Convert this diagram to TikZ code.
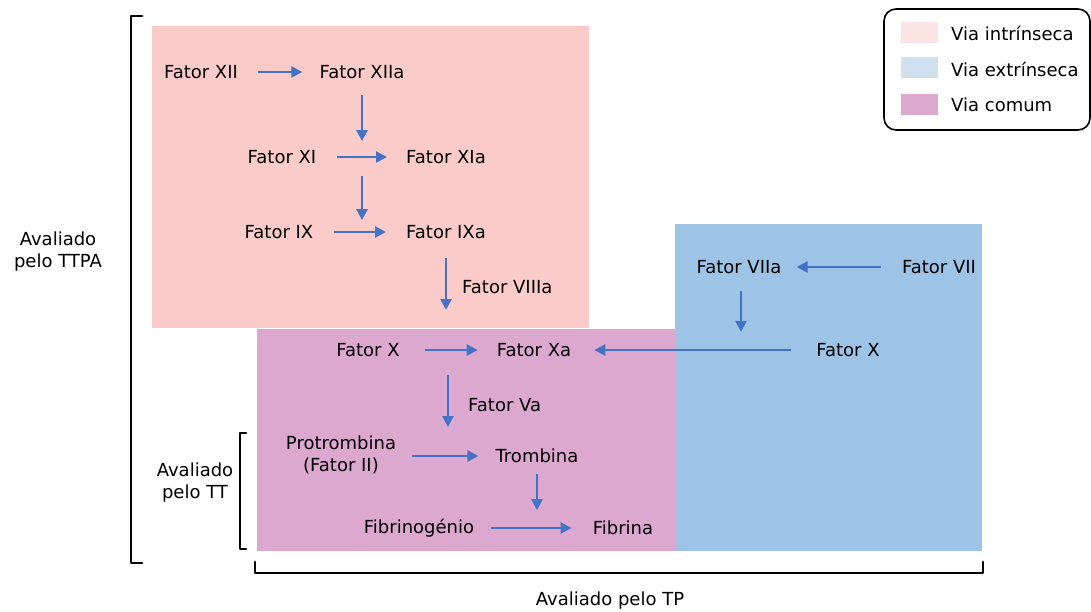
\documentclass[tikz,border=0pt]{standalone}
\usepackage{fontspec}
\setmainfont{DejaVu Sans}
\usetikzlibrary{arrows.meta}
\definecolor{intr}{HTML}{FBCBCA}
\definecolor{extr}{HTML}{9DC3E6}
\definecolor{comum}{HTML}{DCA8D0}
\definecolor{intrL}{HTML}{FDE4E4}
\definecolor{extrL}{HTML}{CFE0F1}
\definecolor{seta}{HTML}{4472C4}
\tikzset{
  lbl/.style={font=\fontsize{18}{22}\selectfont, text=black, inner sep=0pt, align=center},
  leg/.style={lbl, anchor=west},
  flow/.style={draw=seta, line width=2.5pt, -{Triangle[length=11pt,width=11pt]}},
  brk/.style={draw=black, line width=2.8pt, line cap=round, line join=round},
}
\begin{document}
\begin{tikzpicture}[x=1pt,y=-1pt]
\useasboundingbox (0,0) rectangle (1091,612);

% pathway regions
\fill[intr] (152,26) rectangle (589,328);
\fill[extr] (675,224) rectangle (982,551);
\fill[comum] (257,329) rectangle (675,551);

% legend
\draw[line width=1.6pt, rounded corners=12pt] (884,9) rectangle (1090,130);
\fill[intrL] (901,22) rectangle (938,43);
\fill[extrL] (901,57) rectangle (938,78);
\fill[comum] (901,94) rectangle (938,115);
\node[leg] (lg1) at (951,33) {Via intrínseca};
\node[leg] (lg2) at (951,69) {Via extrínseca};
\node[leg] (lg3) at (951,105) {Via comum};

% brackets
\draw[brk] (142,16) -- (131,16) -- (131,563) -- (142,563);
\draw[brk] (246,433) -- (240,433) -- (240,549) -- (246,549);
\draw[brk] (255,562) -- (255,573) -- (983,573) -- (983,562);
\node[lbl] (ttpa) at (58,252) {Avaliado\\pelo TTPA};
\node[lbl] (tt) at (195,483) {Avaliado\\pelo TT};
\node[lbl] (tp) at (610,601) {Avaliado pelo TP};

% intrinsic pathway
\node[lbl] (f12) at (201,72) {Fator XII};
\node[lbl] (f12a) at (362,72) {Fator XIIa};
\node[lbl] (f11) at (282,157) {Fator XI};
\node[lbl] (f11a) at (446,157) {Fator XIa};
\node[lbl] (f9) at (279,232) {Fator IX};
\node[lbl] (f9a) at (446,232) {Fator IXa};
\node[lbl, anchor=west] (f8a) at (462,287) {Fator VIIIa};

% extrinsic pathway
\node[lbl] (f7a) at (739,267) {Fator VIIa};
\node[lbl] (f7) at (939,267) {Fator VII};
\node[lbl] (f10e) at (848,350) {Fator X};

% common pathway
\node[lbl] (f10) at (368,350) {Fator X};
\node[lbl] (f10a) at (534,350) {Fator Xa};
\node[lbl, anchor=west] (f5a) at (468,405) {Fator Va};
\node[lbl] (f2) at (341,455) {Protrombina\\(Fator II)};
\node[lbl] (thr) at (537,456) {Trombina};
\node[lbl] (fbg) at (419,528) {Fibrinogénio};
\node[lbl] (fbr) at (623,528) {Fibrina};

% connectors (shifts are in canvas units: positive y points up)
\draw[flow] ([xshift=20pt]f12.east) -- ([xshift=-17pt]f12a.west);
\draw[flow] ([yshift=-16pt]f12a.south) -- ([yshift=9pt]f11a.north -| f12a.south);
\draw[flow] ([xshift=21pt]f11.east) -- ([xshift=-19pt]f11a.west);
\draw[flow] ([yshift=-12pt]f11a.south -| f12a.south) -- ([yshift=5pt]f9a.north -| f12a.south);
\draw[flow] ([xshift=21pt]f9.east) -- ([xshift=-20pt]f9a.west);
\draw[flow] ([shift={(-16pt,29pt)}]f8a.west) -- ([shift={(-16pt,-23pt)}]f8a.west);

\draw[flow] ([xshift=-21pt]f7.west) -- ([xshift=15pt]f7a.east |- f7.west);
\draw[flow] ([shift={(2pt,-17pt)}]f7a.south) -- ([shift={(2pt,-58pt)}]f7a.south);
\draw[flow] ([xshift=-25pt]f10e.west) -- ([xshift=23pt]f10a.east);

\draw[flow] ([xshift=25pt]f10.east) -- ([xshift=-19pt]f10a.west);
\draw[flow] ([shift={(-20pt,30pt)}]f5a.west) -- ([shift={(-20pt,-22pt)}]f5a.west);
\draw[flow] ([xshift=16pt]f2.east |- thr.west) -- ([xshift=-17pt]thr.west);
\draw[flow] ([yshift=-11pt]thr.south) -- ([yshift=-47pt]thr.south);
\draw[flow] ([xshift=17pt]fbg.east) -- ([xshift=-21pt]fbr.west);
\end{tikzpicture}
\end{document}
